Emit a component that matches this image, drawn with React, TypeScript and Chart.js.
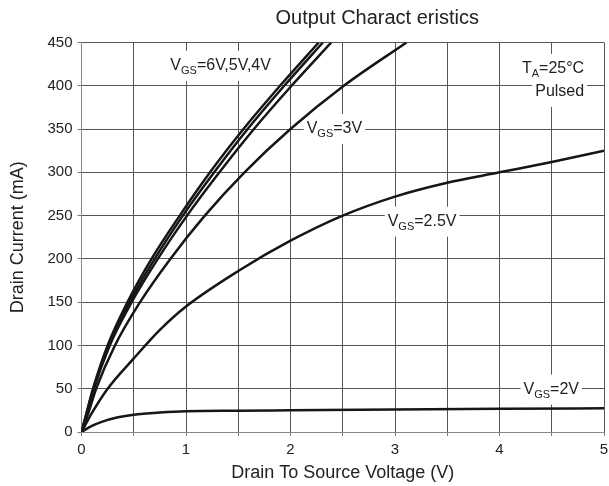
import React, { useEffect, useRef } from "react";
import { Chart, registerables } from "chart.js";

Chart.register(...registerables);

// ---------- data (V = drain-source voltage in volts, I = drain current in mA) ----------
const xTickLabels = [0, 1, 2, 3, 4, 5];
const yTickLabels = [0, 50, 100, 150, 200, 250, 300, 350, 400, 450];

const vgs6V = [0, 0.05, 0.11, 0.25, 0.44, 0.67, 0.94, 1.23, 1.55, 1.9, 2.27];
const vgs6I = [0, 23, 50, 100, 150, 200, 250, 300, 350, 400, 450];

const vgs5V = [0, 0.05, 0.115, 0.26, 0.46, 0.7, 0.97, 1.27, 1.59, 1.94, 2.31];
const vgs5I = [0, 22, 50, 100, 150, 200, 250, 300, 350, 400, 450];

const vgs4V = [0, 0.055, 0.12, 0.27, 0.48, 0.73, 1.01, 1.32, 1.65, 2.01, 2.39];
const vgs4I = [0, 21, 50, 100, 150, 200, 250, 300, 350, 400, 450];

const vgs3V = [0, 0.06, 0.14, 0.32, 0.56, 0.85, 1.18, 1.56, 2.0, 2.51, 3.11];
const vgs3I = [0, 20, 50, 100, 150, 200, 250, 300, 350, 400, 450];

const vgs25V = [0, 0.1, 0.25, 0.5, 0.75, 1.0, 1.5, 2.0, 2.5, 3.0, 3.5, 4.0, 4.5, 5.0];
const vgs25I = [0, 22, 50, 85, 118, 145, 186, 221, 250, 272, 288, 300, 312, 325];

const vgs2V = [0, 0.1, 0.2, 0.35, 0.5, 0.75, 1.0, 1.5, 2.0, 3.0, 4.0, 5.0];
const vgs2I = [0, 7, 12, 17, 20, 22.5, 24, 24.5, 25, 26, 26.8, 27.4];

const seriesNames = ["VGS=6V", "VGS=5V", "VGS=4V", "VGS=3V", "VGS=2.5V", "VGS=2V"];
const seriesV = [vgs6V, vgs5V, vgs4V, vgs3V, vgs25V, vgs2V];
const seriesI = [vgs6I, vgs5I, vgs4I, vgs3I, vgs25I, vgs2I];

const chartTitle = "Output Charact eristics";
const xTitle = "Drain To Source Voltage (V)";
const yTitle = "Drain Current (mA)";

// label parts: [text, isSubscript]
const curveLabels: { parts: [string, boolean][]; v: number; i: number; align: "left" | "right" }[] = [
  { parts: [["V", false], ["GS", true], ["=6V,5V,4V", false]], v: 0.85, i: 423, align: "left" },
  { parts: [["V", false], ["GS", true], ["=3V", false]], v: 2.155, i: 350, align: "left" },
  { parts: [["V", false], ["GS", true], ["=2.5V", false]], v: 2.93, i: 243, align: "left" },
  { parts: [["V", false], ["GS", true], ["=2V", false]], v: 4.23, i: 49, align: "left" },
  { parts: [["T", false], ["A", true], ["=25°C", false]], v: 4.81, i: 419.5, align: "right" },
  { parts: [["Pulsed", false]], v: 4.81, i: 393, align: "right" },
];

const FONT = "'Liberation Sans', Arial, Helvetica, sans-serif";
const TEXT_COLOR = "#222";

const labelPlugin = {
  id: "curveLabels",
  beforeDatasetsDraw(chart: any) {
    const { ctx, scales } = chart;
    const xs = scales.x;
    const ys = scales.y;
    ctx.save();
    for (const lab of curveLabels) {
      const widths = lab.parts.map(([t, sub]) => {
        ctx.font = `${sub ? 11 : 16}px ${FONT}`;
        return ctx.measureText(t).width;
      });
      const total = widths.reduce((a, b) => a + b, 0);
      const px = xs.getPixelForValue(lab.v);
      const py = ys.getPixelForValue(lab.i);
      const left = lab.align === "left" ? px : px - total;
      ctx.fillStyle = "#fff";
      ctx.fillRect(left - 3, py - 15, total + 6, 30);
      let cx = left;
      ctx.fillStyle = TEXT_COLOR;
      ctx.textAlign = "left";
      ctx.textBaseline = "middle";
      lab.parts.forEach(([t, sub], k) => {
        ctx.font = `${sub ? 11 : 16}px ${FONT}`;
        ctx.fillText(t, cx, sub ? py + 5 : py);
        cx += widths[k];
      });
    }
    ctx.restore();
  },
  afterDraw(chart: any) {
    const { ctx, scales } = chart;
    ctx.save();
    ctx.font = `20px ${FONT}`;
    ctx.fillStyle = TEXT_COLOR;
    ctx.textAlign = "center";
    ctx.textBaseline = "middle";
    ctx.fillText(chartTitle, scales.x.getPixelForValue(2.83), 18);
    ctx.restore();
  },
};

export default function App() {
  const canvasRef = useRef<HTMLCanvasElement | null>(null);

  useEffect(() => {
    document.body.style.margin = "0";
    const canvas = canvasRef.current;
    if (!canvas) return;
    Chart.defaults.font.family = FONT;

    const datasets = seriesNames.map((name, k) => ({
      label: name,
      data: seriesV[k].map((v, j) => ({ x: v, y: seriesI[k][j] })),
      borderColor: "#161616",
      borderWidth: 2.5,
      pointRadius: 0,
      fill: false,
      cubicInterpolationMode: "monotone" as const,
    }));

    const chart = new Chart(canvas, {
      type: "line",
      data: { datasets },
      options: {
        animation: false,
        responsive: false,
        devicePixelRatio: 1,
        layout: { autoPadding: false, padding: { top: 42.5, right: 5, left: 0, bottom: 0 } },
        plugins: {
          legend: { display: false },
          tooltip: { enabled: false },
          title: { display: false },
        },
        scales: {
          x: {
            type: "linear",
            min: 0,
            max: 5,
            afterFit: (s: any) => {
              s.height = 54;
              s.paddingLeft = 0;
              s.paddingRight = 0;
            },
            afterBuildTicks: (s: any) => {
              const t: any[] = [];
              for (let k = 0; k <= 10; k++) t.push({ value: k / 2 });
              s.ticks = t;
            },
            ticks: {
              autoSkip: false,
              maxRotation: 0,
              padding: 5,
              color: TEXT_COLOR,
              font: { size: 15, family: FONT },
              callback: (val: any) => (xTickLabels.includes(Number(val)) ? String(val) : ""),
            },
            grid: { color: "#555", lineWidth: 1, tickLength: 4, tickColor: "#777" },
            border: { color: "#888", width: 1 },
            title: {
              display: true,
              text: xTitle,
              color: TEXT_COLOR,
              font: { size: 18, family: FONT },
              padding: { top: 0, bottom: 2 },
            },
          },
          y: {
            type: "linear",
            min: 0,
            max: 450,
            afterFit: (s: any) => {
              s.width = 81.5;
              s.paddingTop = 0;
              s.paddingBottom = 0;
            },
            afterBuildTicks: (s: any) => {
              s.ticks = yTickLabels.map((v) => ({ value: v }));
            },
            ticks: {
              autoSkip: false,
              padding: 5,
              color: TEXT_COLOR,
              font: { size: 15, family: FONT },
              callback: (val: any) => String(val),
            },
            grid: { color: "#555", lineWidth: 1, tickLength: 4, tickColor: "#777" },
            border: { color: "#888", width: 1 },
            title: {
              display: true,
              text: yTitle,
              color: TEXT_COLOR,
              font: { size: 18, family: FONT },
              padding: { top: 7, bottom: 0 },
            },
          },
        },
      },
      plugins: [labelPlugin],
    });

    return () => chart.destroy();
  }, []);

  return (
    <div style={{ width: 609, height: 486, background: "#fff" }}>
      <canvas ref={canvasRef} width={609} height={486} style={{ display: "block" }} />
    </div>
  );
}
